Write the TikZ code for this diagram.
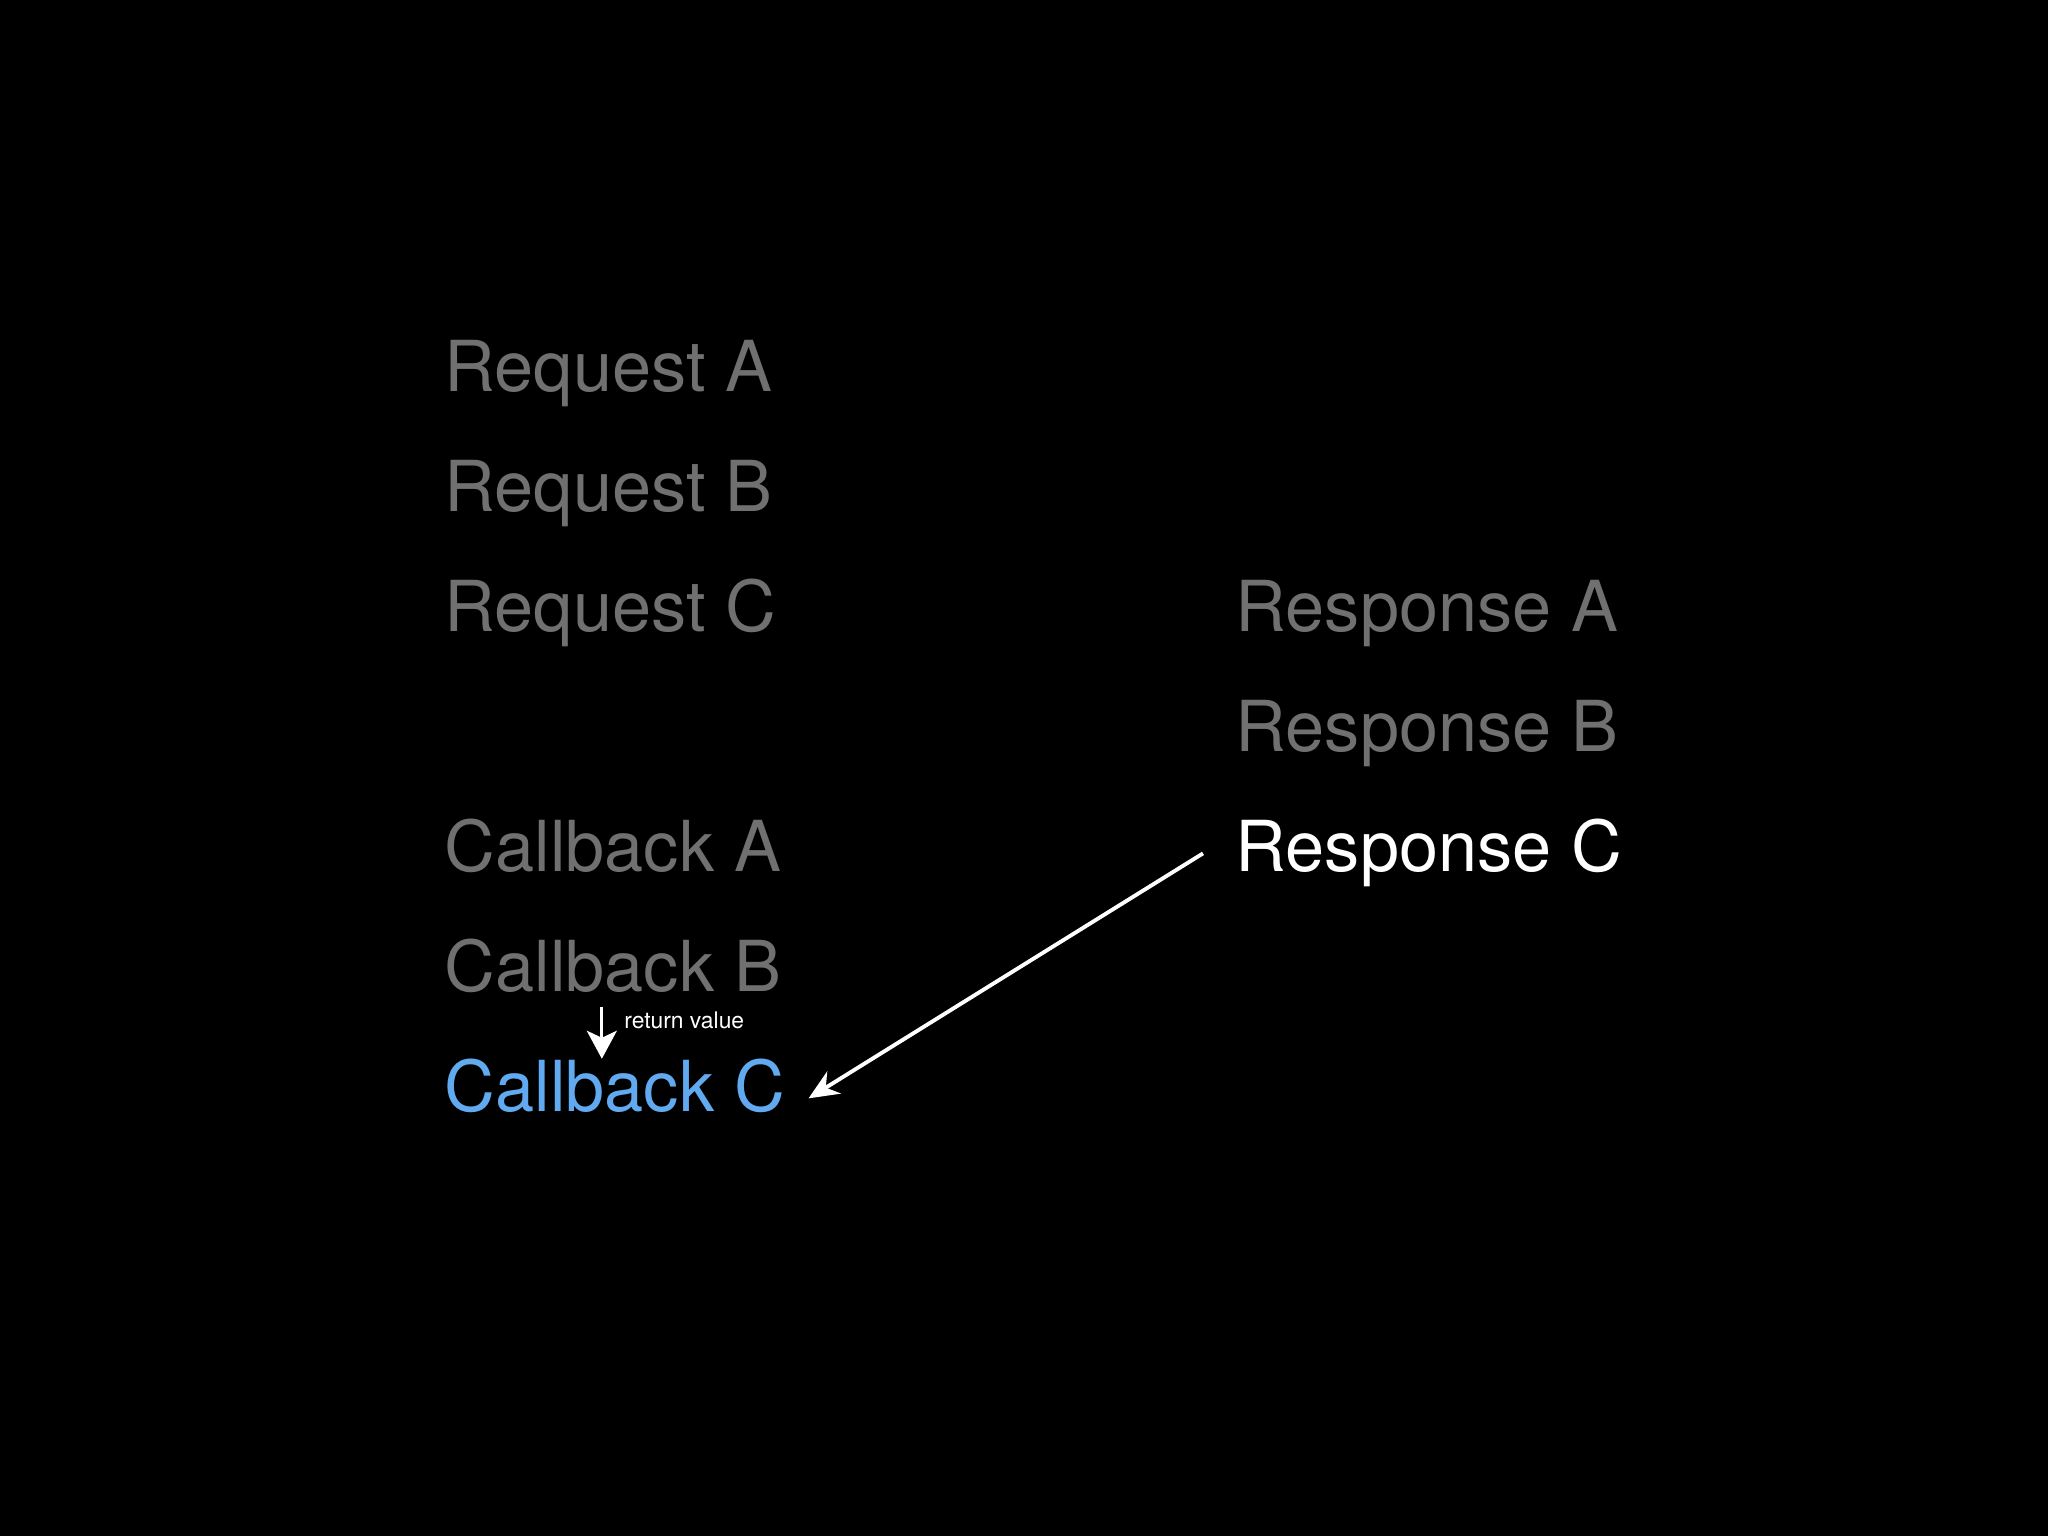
\documentclass[tikz,border=0pt]{standalone}
\usepackage{fontspec}
\setmainfont{TeX Gyre Heros}
\usetikzlibrary{positioning,arrows.meta}
\definecolor{dimtext}{RGB}{112,112,112}
\definecolor{cbblue}{RGB}{98,170,240}

\begin{document}
\begin{tikzpicture}[
    >=Stealth,
    item/.style={
        anchor=base west,
        inner sep=0pt,
        text=dimtext,
        font=\fontsize{20}{24}\selectfont
    },
    row/.style={anchor=base west},
    note/.style={
        inner sep=0pt,
        text=white,
        font=\fontsize{6.5}{8}\selectfont
    }
]

\fill[black] (0,0) rectangle (20.48,15.36);

\node[item] (ReqA) at (4.44,11.44) {Request A};
\node[item, below=12mm of ReqA.base west, row] (ReqB) {Request B};
\node[item, below=12mm of ReqB.base west, row] (ReqC) {Request C};

\node[item] (RespA) at (12.35,9.04) {Response A};
\node[item, below=12mm of RespA.base west, row] (RespB) {Response B};
\node[item, text=white, below=12mm of RespB.base west, row] (RespC) {Response C};

\node[item, below=24mm of ReqC.base west, row] (CbA) {Callback A};
\node[item, below=12mm of CbA.base west, row] (CbB) {Callback B};
\node[item, text=cbblue, below=12mm of CbB.base west, row] (CbC) {Callback C};

\draw[-{Stealth[length=3mm,width=2.6mm]}, white, line width=1.1pt] ([xshift=-3.2mm]RespC.west) -- ([xshift=2.3mm,yshift=-1.2mm]CbC.east);
\draw[-{Stealth[length=2.8mm,width=3mm,inset=0.7mm]}, white, line width=0.9pt] ([xshift=-1.1mm,yshift=-1.3mm]CbB.south) -- ([xshift=-1.1mm]CbB.south |- CbC.north)
    node[pos=0.26, right=2.1mm, note] {return value};

\end{tikzpicture}
\end{document}
